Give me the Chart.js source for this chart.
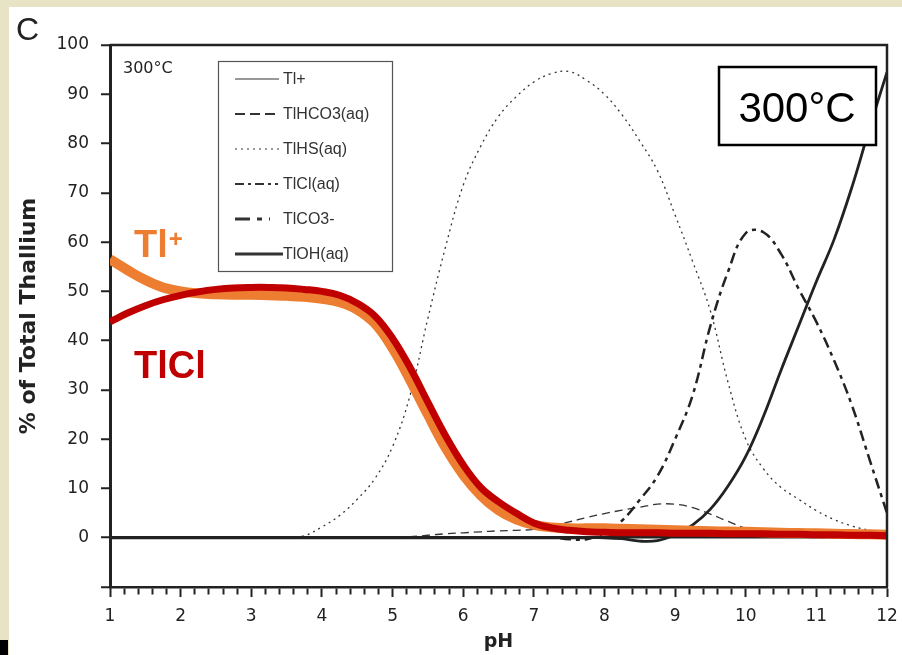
<!DOCTYPE html>
<html>
<head>
<meta charset="utf-8">
<script src="https://cdn.jsdelivr.net/npm/chart.js@4.4.1/dist/chart.umd.min.js"></script>
<style>
  html, body { margin: 0; padding: 0; background: #e8e3c4; }
  canvas { display: block; }
</style>
</head>
<body>
<canvas id="chartspec" width="902" height="655"></canvas>
<script>
// pH steps (x values)
const ph = [1, 1.25, 1.5, 1.75, 2, 2.25, 2.5, 2.75, 3, 3.25, 3.5, 3.75, 4, 4.25, 4.5, 4.75,
  5, 5.25, 5.5, 5.75, 6, 6.25, 6.5, 6.75, 7, 7.25, 7.5, 7.75, 8, 8.25, 8.5, 8.75,
  9, 9.25, 9.5, 9.75, 10, 10.25, 10.5, 10.75, 11, 11.25, 11.5, 11.75, 12];

// % of total thallium per species
const tlPlus = [56.5, 54.3, 52.3, 50.8, 50.0, 49.6, 49.4, 49.3, 49.3, 49.2, 49.1, 48.9, 48.5, 47.8, 46.3, 43.5,
  38.5, 32.0, 25.0, 18.3, 12.8, 8.6, 5.6, 3.7, 2.6, 2.1, 1.9, 1.9, 1.9, 1.8, 1.7, 1.6,
  1.5, 1.4, 1.3, 1.25, 1.2, 1.1, 1.0, 0.95, 0.9, 0.8, 0.75, 0.7, 0.6];
const tlCl = [43.8, 45.6, 47.1, 48.3, 49.2, 49.9, 50.4, 50.7, 50.8, 50.8, 50.7, 50.4, 50.0, 49.2, 47.6, 45.0,
  40.5, 34.5, 27.5, 20.7, 14.8, 10.2, 7.3, 5.0, 3.0, 2.0, 1.5, 1.2, 1.1, 1.0, 1.0, 1.0,
  0.9, 0.9, 0.9, 0.8, 0.8, 0.8, 0.7, 0.7, 0.6, 0.6, 0.5, 0.5, 0.4];
const tlHCO3 = [0, 0, 0, 0, 0, 0, 0, 0, 0, 0, 0, 0, 0, 0, 0, 0,
  0, 0.2, 0.5, 0.8, 1.0, 1.2, 1.4, 1.5, 1.7, 2.3, 3.2, 4.1, 4.9, 5.6, 6.2, 6.8,
  6.8, 6.1, 4.8, 3.3, 1.9, 1.0, 0.5, 0.2, 0.1, 0, 0, 0, 0];
const tlHS = [0, 0, 0, 0, 0, 0, 0, 0, 0, 0, 0, 0.4, 2.2, 4.5, 7.8, 12.0,
  18.5, 29.0, 44.5, 59.0, 71.5, 79.5, 85.5, 89.5, 92.5, 94.2, 94.6, 92.8, 90.0, 85.8, 80.5, 74.5,
  65.5, 56.0, 46.0, 31.5, 20.0, 14.0, 10.2, 7.8, 5.5, 3.7, 2.4, 1.5, 0.8];
const tlCO3 = [0, 0, 0, 0, 0, 0, 0, 0, 0, 0, 0, 0, 0, 0, 0, 0,
  0, 0, 0, 0, 0, 0, 0, 0, 0, 0.1, -0.3, -0.3, 1.0, 3.5, 7.7, 12.5,
  20.0, 29.0, 43.0, 54.0, 61.8, 62.0, 57.6, 50.5, 43.8, 36.0, 27.0, 16.0, 5.0];
const tlOH = [0, 0, 0, 0, 0, 0, 0, 0, 0, 0, 0, 0, 0, 0, 0, 0,
  0, 0, 0, 0, 0, 0, 0, 0, 0, 0, 0, 0, 0, -0.2, -0.7, -0.6,
  0.6, 2.6, 5.8, 10.5, 16.5, 24.6, 34.0, 43.0, 52.0, 60.5, 71.0, 83.0, 94.5];

const legendNames = ['Tl+', 'TlHCO3(aq)', 'TlHS(aq)', 'TlCl(aq)', 'TlCO3-', 'TlOH(aq)'];
const legendStyles = [
  { w: 1, dash: [], len: 44 },
  { w: 2, dash: [10, 5], len: 40 },
  { w: 1, dash: [2, 4], len: 47 },
  { w: 2, dash: [9, 4, 3, 4], len: 43 },
  { w: 3, dash: [15, 7, 5, 7], len: 35 },
  { w: 3, dash: [], len: 48 }
];

function pts(vals) {
  return ph.map((x, i) => ({ x: x, y: vals[i] }));
}

function isInt(v) {
  return Math.abs(v - Math.round(v)) < 1e-6;
}

const ink = '#222';

const decor = {
  id: 'decor',
  beforeDraw(chart) {
    const c = chart.ctx;
    c.save();
    c.fillStyle = '#e8e3c4';
    c.fillRect(0, 0, chart.width, chart.height);
    c.fillStyle = '#fff';
    c.fillRect(9, 7, chart.width - 9, chart.height - 7);
    c.fillStyle = '#000';
    c.fillRect(0, 640, 8, 15);
    c.restore();
  },
  afterDraw(chart) {
    const c = chart.ctx;
    const a = chart.chartArea;
    c.save();
    // frame top + right
    c.strokeStyle = ink;
    c.lineWidth = 2.5;
    c.beginPath();
    c.moveTo(a.left, a.top);
    c.lineTo(a.right, a.top);
    c.lineTo(a.right, a.bottom);
    c.stroke();

    // panel letter
    c.fillStyle = ink;
    c.font = '32px "Liberation Sans", Arial, sans-serif';
    c.textBaseline = 'alphabetic';
    c.fillText('C', 16, 40);

    c.font = '16px "DejaVu Sans", sans-serif';
    c.fillText('300°C', 123, 73);

    // legend box
    c.strokeStyle = '#555';
    c.lineWidth = 1.2;
    c.strokeRect(218.5, 61.5, 174, 210);
    c.font = '16px "Liberation Sans", Arial, sans-serif';
    c.textBaseline = 'middle';
    legendNames.forEach((name, i) => {
      const y = 79 + i * 35;
      const s = legendStyles[i];
      c.strokeStyle = '#333';
      c.lineWidth = s.w;
      c.setLineDash(s.dash);
      c.beginPath();
      c.moveTo(235, y);
      c.lineTo(235 + s.len, y);
      c.stroke();
      c.setLineDash([]);
      c.fillStyle = '#333';
      c.fillText(name, 283, y + 1);
    });

    // big temperature box
    c.fillStyle = '#fff';
    c.fillRect(719, 67, 157, 78);
    c.strokeStyle = '#000';
    c.lineWidth = 2.5;
    c.strokeRect(719, 67, 157, 78);
    c.fillStyle = '#000';
    c.textAlign = 'center';
    c.textBaseline = 'alphabetic';
    c.font = '42px "Liberation Sans", Arial, sans-serif';
    c.fillText('300°C', 797, 122);

    // species call-outs
    c.textAlign = 'left';
    c.fillStyle = '#ED7D31';
    c.font = 'bold 38px "Liberation Sans", Arial, sans-serif';
    c.fillText('Tl', 134, 257);
    const tw = c.measureText('Tl').width;
    c.font = 'bold 24px "Liberation Sans", Arial, sans-serif';
    c.fillText('+', 134 + tw + 1, 247);
    c.fillStyle = '#C00000';
    c.font = 'bold 38px "Liberation Sans", Arial, sans-serif';
    c.fillText('TlCl', 134, 378);
    c.restore();
  }
};

const ctx = document.getElementById('chartspec').getContext('2d');

const chartspec = new Chart(ctx, {
  type: 'line',
  data: {
    datasets: [
      { label: 'TlCl', data: pts(tlCl), borderColor: '#C00000', borderWidth: 7, order: 0 },
      { label: 'Tl+', data: pts(tlPlus), borderColor: '#ED7D31', borderWidth: 10, order: 1 },
      { label: 'TlOH(aq)', data: pts(tlOH), borderColor: ink, borderWidth: 2.8, order: 2 },
      { label: 'TlCO3-', data: pts(tlCO3), borderColor: ink, borderWidth: 2.5, borderDash: [11, 5, 4, 5], order: 3 },
      { label: 'TlHCO3(aq)', data: pts(tlHCO3), borderColor: '#333', borderWidth: 1.3, borderDash: [8, 5], order: 4 },
      { label: 'TlHS(aq)', data: pts(tlHS), borderColor: '#333', borderWidth: 1.3, borderDash: [2, 4], order: 5 }
    ]
  },
  options: {
    responsive: false,
    animation: false,
    events: [],
    layout: { padding: { left: 0, right: 15, top: 45, bottom: 0 } },
    elements: {
      point: { radius: 0 },
      line: { tension: 0.4, borderCapStyle: 'butt', fill: false }
    },
    plugins: {
      legend: { display: false },
      tooltip: { enabled: false }
    },
    scales: {
      x: {
        type: 'linear',
        min: 1,
        max: 12,
        afterFit(s) { s.height = 68; },
        ticks: {
          stepSize: 0.2,
          autoSkip: false,
          maxRotation: 0,
          padding: 3,
          color: ink,
          font: { family: '"DejaVu Sans", sans-serif', size: 17, lineHeight: 1.9 },
          callback: v => isInt(v) ? Math.round(v) : ''
        },
        grid: {
          drawOnChartArea: false,
          tickLength: 10,
          tickWidth: 2,
          tickColor: ink,
          tickBorderDash: c => (c.tick && isInt(c.tick.value)) ? [] : [6, 30]
        },
        border: { color: ink, width: 2.5 },
        title: {
          display: true,
          text: 'pH',
          color: ink,
          font: { family: '"DejaVu Sans", sans-serif', size: 19, weight: 'bold' },
          padding: { top: 0, bottom: 2 }
        }
      },
      y: {
        min: -10,
        max: 100,
        afterFit(s) { s.width = 110; },
        ticks: {
          stepSize: 10,
          padding: 12,
          color: ink,
          font: { family: '"DejaVu Sans", sans-serif', size: 17 },
          callback: v => v < 0 ? '' : v
        },
        grid: {
          color: c => (c.tick && c.tick.value === 0) ? ink : 'rgba(0,0,0,0)',
          lineWidth: 2.5,
          tickLength: 9,
          tickWidth: 2,
          tickColor: ink
        },
        border: { color: ink, width: 3 },
        title: {
          display: true,
          text: '% of Total Thallium',
          color: ink,
          font: { family: '"DejaVu Sans", sans-serif', size: 22, weight: 'bold' },
          padding: { top: 16, bottom: 0 }
        }
      }
    }
  },
  plugins: [decor]
});
</script>
</body>
</html>
